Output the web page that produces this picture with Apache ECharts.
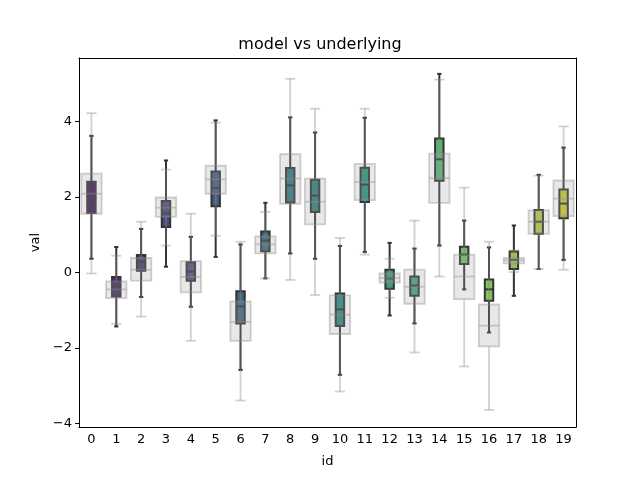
<!DOCTYPE html>
<html>
<head>
<meta charset="utf-8">
<script src="https://cdn.jsdelivr.net/npm/echarts@6/dist/echarts.min.js"></script>
<style>
  html, body { margin: 0; padding: 0; background: #fff; }
  #chart { width: 640px; height: 480px; }
</style>
</head>
<body>
<div id="chart"></div>
<script>
// categories
const ids = ["0","1","2","3","4","5","6","7","8","9","10","11","12","13","14","15","16","17","18","19"];
const yTicks = [-4, -2, 0, 2, 4];

// model boxes (low whisker, q1, median, q3, high whisker)
const modelLow  = [0.36, -1.43, -0.65, 0.15, -0.91, 0.41, -2.58, -0.16, 0.50, 0.36, -2.71, 0.54, -1.14, -1.35, 0.71, -0.45, -1.59, -0.62, 0.09, 0.33];
const modelQ1   = [1.57, -0.64, 0.04, 1.20, -0.22, 1.75, -1.35, 0.56, 1.85, 1.60, -1.42, 1.86, -0.43, -0.62, 2.42, 0.22, -0.75, 0.09, 1.02, 1.43];
const modelMed  = [1.98, -0.37, 0.27, 1.56, 0.02, 2.23, -0.90, 0.84, 2.30, 2.03, -0.98, 2.32, -0.16, -0.35, 2.99, 0.47, -0.45, 0.33, 1.34, 1.82];
const modelQ3   = [2.40, -0.12, 0.46, 1.89, 0.27, 2.67, -0.50, 1.08, 2.76, 2.45, -0.56, 2.77, 0.07, -0.11, 3.54, 0.68, -0.19, 0.55, 1.65, 2.19];
const modelHigh = [3.61, 0.67, 1.15, 2.96, 0.94, 4.02, 0.74, 1.84, 4.10, 3.70, 0.70, 4.09, 0.78, 0.63, 5.25, 1.37, 0.66, 1.24, 2.58, 3.30];

// underlying boxes
const underLow  = [-0.03, -1.36, -1.17, 0.71, -1.81, 0.97, -3.39, -0.16, -0.20, -0.60, -3.15, 0.47, -0.67, -2.12, -0.11, -2.49, -3.64, 0.01, 0.09, 0.07];
const underQ1   = [1.55, -0.68, -0.22, 1.47, -0.53, 2.08, -1.81, 0.50, 1.81, 1.27, -1.63, 1.91, -0.27, -0.83, 1.84, -0.71, -1.96, 0.24, 1.02, 1.49];
const underMed  = [2.08, -0.45, 0.07, 1.71, -0.12, 2.46, -1.31, 0.74, 2.48, 1.87, -1.12, 2.39, -0.15, -0.38, 2.49, -0.11, -1.41, 0.32, 1.34, 1.95];
const underQ3   = [2.61, -0.24, 0.38, 1.98, 0.30, 2.82, -0.77, 0.95, 3.13, 2.48, -0.61, 2.87, -0.03, 0.07, 3.14, 0.47, -0.85, 0.38, 1.64, 2.43];
const underHigh = [4.21, 0.44, 1.34, 2.72, 1.55, 3.96, 0.81, 1.60, 5.12, 4.33, 0.91, 4.33, 0.36, 1.37, 5.10, 2.24, 0.81, 0.58, 2.56, 3.86];

// viridis, 20 steps
const viridis = ["#471366","#482374","#46327e","#424186","#3d4e8a","#375b8d","#31688e","#2c738e","#277f8e","#238a8d",
                 "#1f958b","#1fa187","#25ad82","#32b67a","#48c16e","#62cb5f","#7ed34f","#9fda3a","#c0df25","#e0e318"];

// seaborn-style desaturation (HLS saturation * 0.75)
function desaturate(hex, prop) {
  let r = parseInt(hex.slice(1, 3), 16) / 255;
  let g = parseInt(hex.slice(3, 5), 16) / 255;
  let b = parseInt(hex.slice(5, 7), 16) / 255;
  const mx = Math.max(r, g, b), mn = Math.min(r, g, b);
  const l = (mx + mn) / 2;
  if (mx === mn) return hex;
  const d = mx - mn;
  let s = l > 0.5 ? d / (2 - mx - mn) : d / (mx + mn);
  let h;
  if (mx === r) h = ((g - b) / d + (g < b ? 6 : 0)) / 6;
  else if (mx === g) h = ((b - r) / d + 2) / 6;
  else h = ((r - g) / d + 4) / 6;
  s *= prop;
  const q = l < 0.5 ? l * (1 + s) : l + s - l * s;
  const p = 2 * l - q;
  const hue = (t) => {
    if (t < 0) t += 1;
    if (t > 1) t -= 1;
    if (t < 1 / 6) return p + (q - p) * 6 * t;
    if (t < 1 / 2) return q;
    if (t < 2 / 3) return p + (q - p) * (2 / 3 - t) * 6;
    return p;
  };
  const toHex = (v) => ("0" + Math.round(v * 255).toString(16)).slice(-2);
  return "#" + toHex(hue(h + 1 / 3)) + toHex(hue(h)) + toHex(hue(h - 1 / 3));
}
const palette = viridis.map((c) => desaturate(c, 0.75));

function rows(lo, q1, md, q3, hi) {
  return ids.map((_, i) => [i, lo[i], q1[i], md[i], q3[i], hi[i]]);
}

function boxRenderer(opt) {
  return function (params, api) {
    const i = api.value(0);
    const band = api.size([1, 0])[0];
    const w = band * opt.width;
    const cap = w / 2;
    const pLow = api.coord([i, api.value(1)]);
    const pQ1 = api.coord([i, api.value(2)]);
    const pMed = api.coord([i, api.value(3)]);
    const pQ3 = api.coord([i, api.value(4)]);
    const pHigh = api.coord([i, api.value(5)]);
    const cx = pMed[0];
    const fill = opt.fill || palette[i];
    const ls = { stroke: opt.line, lineWidth: opt.lineWidth };
    return {
      type: "group",
      children: [
        { type: "line", shape: { x1: cx, y1: pLow[1], x2: cx, y2: pQ1[1] }, style: ls },
        { type: "line", shape: { x1: cx, y1: pQ3[1], x2: cx, y2: pHigh[1] }, style: ls },
        { type: "line", shape: { x1: cx - cap / 2, y1: pLow[1], x2: cx + cap / 2, y2: pLow[1] }, style: ls },
        { type: "line", shape: { x1: cx - cap / 2, y1: pHigh[1], x2: cx + cap / 2, y2: pHigh[1] }, style: ls },
        {
          type: "rect",
          shape: { x: cx - w / 2, y: pQ3[1], width: w, height: pQ1[1] - pQ3[1] },
          style: { fill: fill, stroke: opt.line, lineWidth: opt.lineWidth },
        },
        { type: "line", shape: { x1: cx - w / 2, y1: pMed[1], x2: cx + w / 2, y2: pMed[1] }, style: ls },
      ],
    };
  };
}

const font = "DejaVu Sans";
const chart = echarts.init(document.getElementById("chart"));
chart.setOption({
  animation: false,
  textStyle: { fontFamily: font },
  title: {
    text: "model vs underlying",
    left: "center",
    top: 32,
    textStyle: { fontFamily: font, fontSize: 16, fontWeight: "normal", color: "#000" },
  },
  grid: { left: 79, right: 64, top: 58, bottom: 53 },
  xAxis: [
    {
      type: "category",
      data: ids,
      name: "id",
      nameLocation: "middle",
      nameGap: 28,
      nameTextStyle: { fontFamily: font, fontSize: 13, color: "#000" },
      axisLine: { onZero: false, lineStyle: { color: "#000", width: 1 } },
      axisTick: { alignWithLabel: true, length: 4, lineStyle: { color: "#000" } },
      axisLabel: { color: "#000", fontSize: 13, margin: 6, interval: 0, fontFamily: font },
      splitLine: { show: false },
    },
    {
      type: "category",
      data: ids,
      position: "top",
      axisLine: { onZero: false, lineStyle: { color: "#000", width: 1 } },
      axisTick: { show: false },
      axisLabel: { show: false },
      splitLine: { show: false },
    },
  ],
  yAxis: [
    {
      type: "value",
      min: -4.09,
      max: 5.67,
      name: "val",
      nameLocation: "middle",
      nameGap: 36,
      nameTextStyle: { fontFamily: font, fontSize: 13, color: "#000" },
      axisLine: { show: true, onZero: false, lineStyle: { color: "#000", width: 1 } },
      axisTick: { show: true, length: 4, lineStyle: { color: "#000" }, customValues: yTicks },
      axisLabel: {
        color: "#000", fontSize: 13, margin: 7, fontFamily: font,
        customValues: yTicks,
        formatter: (v) => (v < 0 ? "\u2212" + Math.abs(v) : String(v)),
      },
      splitLine: { show: false },
    },
    {
      type: "value",
      min: -4.09,
      max: 5.67,
      position: "right",
      axisLine: { show: true, onZero: false, lineStyle: { color: "#000", width: 1 } },
      axisTick: { show: false },
      axisLabel: { show: false },
      splitLine: { show: false },
    },
  ],
  series: [
    {
      name: "model",
      type: "custom",
      xAxisIndex: 0,
      yAxisIndex: 0,
      z: 2,
      renderItem: boxRenderer({ width: 0.34, line: "#333333", lineWidth: 2 }),
      encode: { x: 0, y: [1, 2, 3, 4, 5] },
      data: rows(modelLow, modelQ1, modelMed, modelQ3, modelHigh),
    },
    {
      name: "underlying",
      type: "custom",
      xAxisIndex: 1,
      yAxisIndex: 0,
      z: 3,
      renderItem: boxRenderer({ width: 0.82, line: "rgba(140,140,140,0.4)", lineWidth: 1.8, fill: "rgba(165,165,165,0.25)" }),
      encode: { x: 0, y: [1, 2, 3, 4, 5] },
      data: rows(underLow, underQ1, underMed, underQ3, underHigh),
    },
  ],
});
</script>
</body>
</html>
